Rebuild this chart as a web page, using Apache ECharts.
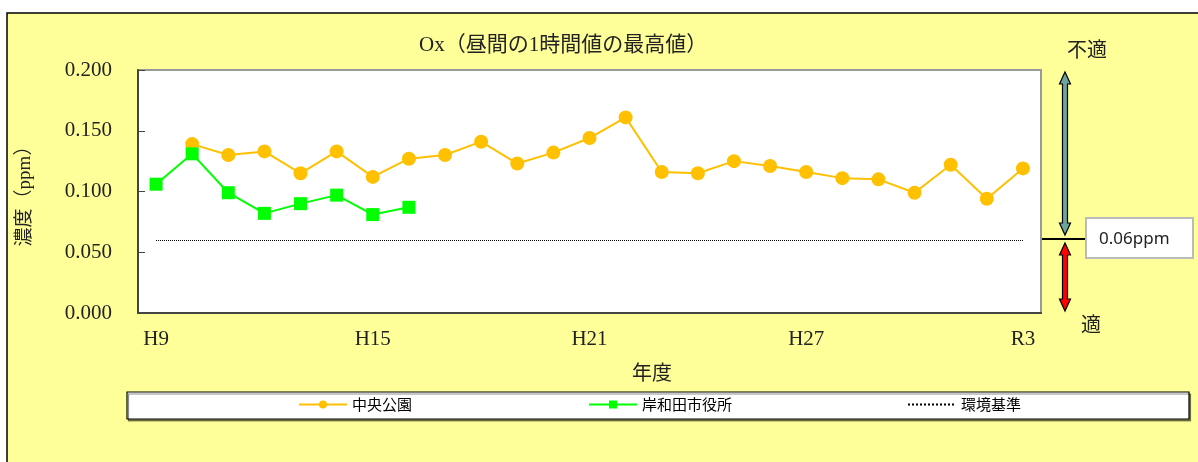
<!DOCTYPE html>
<html>
<head>
<meta charset="utf-8">
<script src="https://cdn.jsdelivr.net/npm/echarts@6/dist/echarts.min.js"></script>
<style>
  html, body { margin: 0; padding: 0; background: #fff; }
  #ox { width: 1198px; height: 462px; }
</style>
</head>
<body>
<div id="ox"></div>
<script>
// 年度
var years = ['H9','H10','H11','H12','H13','H14','H15','H16','H17','H18','H19','H20',
             'H21','H22','H23','H24','H25','H26','H27','H28','H29','H30','R1','R2','R3']
// 中央公園
var chuoKoen = [null, 0.139, 0.130, 0.133, 0.115, 0.133, 0.112, 0.127, 0.130, 0.141, 0.123, 0.132,
                0.144, 0.161, 0.116, 0.115, 0.125, 0.121, 0.116, 0.111, 0.110, 0.099, 0.122, 0.094, 0.119]
// 岸和田市役所
var shiyakusho = [0.106, 0.131, 0.099, 0.082, 0.090, 0.097, 0.081, 0.087, null, null, null, null,
                  null, null, null, null, null, null, null, null, null, null, null, null, null]
// 環境基準
var kijun = 0.06
var yTicks = [0, 0.05, 0.1, 0.15, 0.2]

var serif = "'Liberation Serif', 'Noto Sans CJK JP', serif"
var gothic = "'Noto Sans CJK JP', sans-serif"

var myChart = echarts.init(document.querySelector('#ox'))

// 両矢印
var arrow = function(x, top, bottom, fill) {
    var s = 2.5, h = 5.5, l = 12
    return {
        type: 'polygon',
        shape: {
            points: [[x, top], [x + h, top + l], [x + s, top + l], [x + s, bottom - l], [x + h, bottom - l],
                     [x, bottom], [x - h, bottom - l], [x - s, bottom - l], [x - s, top + l], [x - h, top + l]]
        },
        style: { fill: fill, stroke: '#000', lineWidth: 1.2 }
    }
}

var option = {
    backgroundColor: '#fff',
    animation: false,
    title: {
        text: 'Ox（昼間の1時間値の最高値）',
        left: 419,
        top: 35,
        padding: 0,
        textStyle: { fontFamily: serif, fontSize: 21, fontWeight: 'normal', color: '#222' }
    },
    legend: [
        { data: ['中央公園'], left: 298 },
        { data: ['岸和田市役所'], left: 588 },
        { data: [{ name: '環境基準', itemStyle: { opacity: 0 } }], left: 907 }
    ].map(function(l) {
        l.top = 397
        l.padding = 0
        l.itemWidth = 48
        l.itemHeight = 10
        l.selectedMode = false
        l.textStyle = { fontFamily: gothic, fontSize: 15, color: '#000' }
        return l
    }),
    grid: {
        left: 138,
        right: 157,
        top: 70,
        bottom: 149,
        show: true,
        backgroundColor: '#fff',
        borderColor: '#999',
        borderWidth: 2
    },
    xAxis: {
        type: 'category',
        data: years,
        boundaryGap: true,
        axisLine: { lineStyle: { color: '#444', width: 2 } },
        axisTick: { inside: true, length: 6, interval: 0, lineStyle: { color: '#444' } },
        axisLabel: { interval: 5, margin: 16, fontFamily: serif, fontSize: 21, color: '#222' }
    },
    yAxis: {
        type: 'value',
        min: yTicks[0],
        max: yTicks[yTicks.length - 1],
        interval: 0.05,
        name: '濃度（ppm）',
        nameLocation: 'middle',
        nameGap: 103,
        nameTextStyle: { fontFamily: serif, fontSize: 19, color: '#222' },
        splitLine: { show: false },
        axisLine: { show: true, lineStyle: { color: '#444', width: 2 } },
        axisTick: { show: true, inside: true, length: 7, lineStyle: { color: '#444' } },
        axisLabel: {
            margin: 26,
            fontFamily: serif,
            fontSize: 21,
            color: '#222',
            formatter: function(v) { return v.toFixed(3) }
        }
    },
    series: [
        {
            name: '中央公園',
            type: 'line',
            data: chuoKoen,
            symbol: 'circle',
            symbolSize: 14,
            itemStyle: { color: '#FFC000' },
            lineStyle: { color: '#FFC000', width: 2 }
        },
        {
            name: '岸和田市役所',
            type: 'line',
            data: shiyakusho,
            symbol: 'rect',
            symbolSize: 13,
            itemStyle: { color: '#00FF00' },
            lineStyle: { color: '#00FF00', width: 2 }
        },
        {
            name: '環境基準',
            type: 'line',
            data: [],
            symbol: 'none',
            itemStyle: { color: '#000' },
            lineStyle: { color: '#000', width: 1, type: 'dotted' },
            markLine: {
                silent: true,
                symbol: 'none',
                label: { show: false },
                lineStyle: { color: '#000', width: 1, type: 'dotted' },
                data: [[{ coord: [years[0], kijun] }, { coord: [years[years.length - 1], kijun] }]]
            }
        }
    ],
    graphic: [
        {
            type: 'rect',
            z: -100,
            shape: { x: 7, y: 13, width: 1200, height: 460 },
            style: { fill: '#FFFF99', stroke: '#000', lineWidth: 1.5 }
        },
        {
            type: 'rect',
            z: -50,
            shape: { x: 127, y: 392, width: 1062, height: 27 },
            style: { fill: '#fff', stroke: '#000', lineWidth: 1.2, shadowColor: 'rgba(0,0,0,0.45)', shadowOffsetX: 1.5, shadowOffsetY: 2 }
        },
        {
            type: 'text',
            style: { text: '年度', x: 652, y: 375, align: 'center', verticalAlign: 'middle', font: '20px ' + serif, fill: '#222' }
        },
        arrow(1065, 72, 235, '#6FA39F'),
        arrow(1065, 243, 311, '#FF0000'),
        {
            type: 'line',
            shape: { x1: 1042, y1: 239, x2: 1085, y2: 239 },
            style: { stroke: '#000', lineWidth: 2 }
        },
        {
            type: 'rect',
            shape: { x: 1086, y: 218, width: 107, height: 40 },
            style: { fill: '#fff', stroke: '#BBB', lineWidth: 2 }
        },
        {
            type: 'text',
            style: { text: '0.06ppm', x: 1099, y: 239, verticalAlign: 'middle', font: "17px 'Noto Sans', sans-serif", fill: '#222' }
        },
        {
            type: 'text',
            style: { text: '不適', x: 1087, y: 52, align: 'center', verticalAlign: 'middle', font: '20px ' + serif, fill: '#222' }
        },
        {
            type: 'text',
            style: { text: '適', x: 1091, y: 327, align: 'center', verticalAlign: 'middle', font: '20px ' + serif, fill: '#222' }
        }
    ]
}

myChart.setOption(option)
</script>
</body>
</html>
